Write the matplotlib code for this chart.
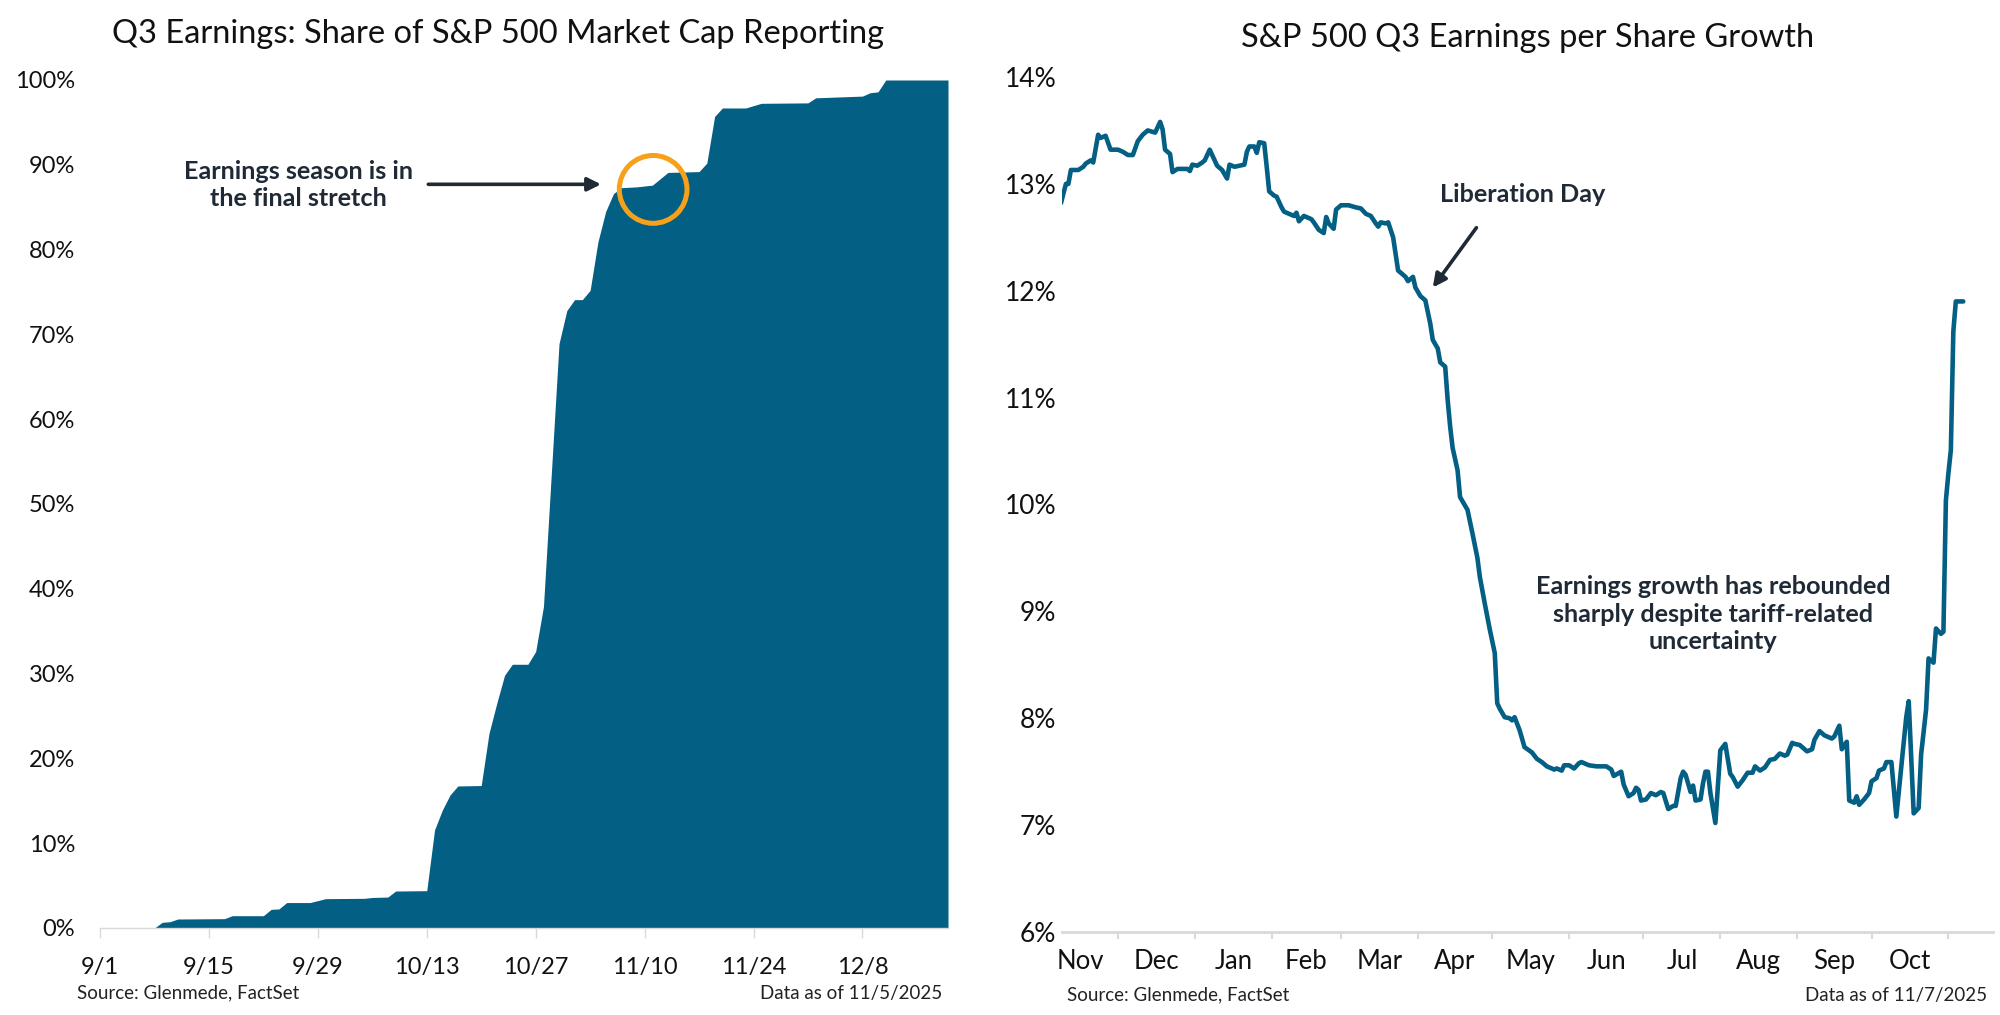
import numpy as np
import pandas as pd
import matplotlib
matplotlib.use("Agg")
import matplotlib.pyplot as plt
import matplotlib.dates as mdates
from matplotlib.patches import Ellipse
from matplotlib.ticker import FuncFormatter, FixedLocator, FixedFormatter, NullFormatter

plt.rcParams['font.family'] = ['Lato', 'DejaVu Sans']

# ---- left chart: share of S&P 500 market cap reporting (%)
rep_dates = ['2025-09-01', '2025-09-08', '2025-09-09', '2025-09-10', '2025-09-11', '2025-09-17',
             '2025-09-18', '2025-09-22', '2025-09-23', '2025-09-24', '2025-09-25', '2025-09-28',
             '2025-09-30', '2025-10-05', '2025-10-06', '2025-10-08', '2025-10-09', '2025-10-13',
             '2025-10-14', '2025-10-15', '2025-10-16', '2025-10-17', '2025-10-20', '2025-10-21',
             '2025-10-22', '2025-10-23', '2025-10-24', '2025-10-26', '2025-10-27', '2025-10-28',
             '2025-10-30', '2025-10-31', '2025-11-01', '2025-11-02', '2025-11-03', '2025-11-04',
             '2025-11-05', '2025-11-06', '2025-11-07', '2025-11-09', '2025-11-11', '2025-11-13',
             '2025-11-17', '2025-11-18', '2025-11-19', '2025-11-20', '2025-11-23', '2025-11-25',
             '2025-12-01', '2025-12-02', '2025-12-08', '2025-12-09', '2025-12-10', '2025-12-11',
             '2025-12-19']
rep_share = [0, 0, 0.67, 0.74, 1.06, 1.1,
             1.45, 1.45, 2.2, 2.25, 3.0, 3.0,
             3.46, 3.5, 3.6, 3.65, 4.36, 4.4,
             11.56, 13.9, 15.7, 16.75, 16.8, 22.95,
             26.5, 29.8, 31.1, 31.1, 32.6, 37.9,
             68.9, 72.8, 74.1, 74.1, 75.2, 80.9,
             84.5, 86.6, 87.3, 87.4, 87.6, 89.1,
             89.2, 90.2, 95.7, 96.7, 96.7, 97.25,
             97.3, 97.9, 98.1, 98.5, 98.6, 100,
             100]
rep_ticks = ['2025-09-01', '2025-09-15', '2025-09-29', '2025-10-13', '2025-10-27',
             '2025-11-10', '2025-11-24', '2025-12-08']
rep_tick_labels = ['9/1', '9/15', '9/29', '10/13', '10/27', '11/10', '11/24', '12/8']

# ---- right chart: S&P 500 Q3 EPS growth estimate (%)
eps_dates = ['2024-11-08', '2024-11-10', '2024-11-11', '2024-11-12', '2024-11-15', '2024-11-17',
             '2024-11-18', '2024-11-20', '2024-11-21', '2024-11-23', '2024-11-24', '2024-11-26',
             '2024-11-28', '2024-12-01', '2024-12-03', '2024-12-05', '2024-12-07', '2024-12-09',
             '2024-12-11', '2024-12-13', '2024-12-16', '2024-12-18', '2024-12-19', '2024-12-20',
             '2024-12-22', '2024-12-23', '2024-12-25', '2024-12-29', '2024-12-30', '2024-12-31',
             '2025-01-02', '2025-01-04', '2025-01-05', '2025-01-07', '2025-01-08', '2025-01-10',
             '2025-01-12', '2025-01-14', '2025-01-15', '2025-01-17', '2025-01-21', '2025-01-22',
             '2025-01-23', '2025-01-25', '2025-01-26', '2025-01-27', '2025-01-29', '2025-01-30',
             '2025-01-31', '2025-02-02', '2025-02-03', '2025-02-05', '2025-02-06', '2025-02-08',
             '2025-02-10', '2025-02-11', '2025-02-12', '2025-02-14', '2025-02-17', '2025-02-18',
             '2025-02-20', '2025-02-22', '2025-02-23', '2025-02-24', '2025-02-26', '2025-02-27',
             '2025-03-01', '2025-03-04', '2025-03-07', '2025-03-09', '2025-03-11', '2025-03-13',
             '2025-03-15', '2025-03-16', '2025-03-17', '2025-03-19', '2025-03-20', '2025-03-22',
             '2025-03-24', '2025-03-25', '2025-03-27', '2025-03-28', '2025-03-30', '2025-03-31',
             '2025-04-02', '2025-04-04', '2025-04-06', '2025-04-07', '2025-04-09', '2025-04-10',
             '2025-04-12', '2025-04-13', '2025-04-14', '2025-04-15', '2025-04-17', '2025-04-18',
             '2025-04-19', '2025-04-21', '2025-04-23', '2025-04-25', '2025-04-26', '2025-04-28',
             '2025-04-30', '2025-05-02', '2025-05-03', '2025-05-04', '2025-05-06', '2025-05-08',
             '2025-05-09', '2025-05-10', '2025-05-12', '2025-05-14', '2025-05-17', '2025-05-19',
             '2025-05-21', '2025-05-23', '2025-05-26', '2025-05-27', '2025-05-29', '2025-05-30',
             '2025-06-01', '2025-06-03', '2025-06-05', '2025-06-06', '2025-06-09', '2025-06-12',
             '2025-06-16', '2025-06-18', '2025-06-19', '2025-06-22', '2025-06-23', '2025-06-25',
             '2025-06-27', '2025-06-28', '2025-06-29', '2025-06-30', '2025-07-02', '2025-07-04',
             '2025-07-06', '2025-07-08', '2025-07-09', '2025-07-11', '2025-07-13', '2025-07-14',
             '2025-07-16', '2025-07-17', '2025-07-18', '2025-07-20', '2025-07-21', '2025-07-22',
             '2025-07-24', '2025-07-25', '2025-07-26', '2025-07-27', '2025-07-28', '2025-07-30',
             '2025-08-01', '2025-08-03', '2025-08-05', '2025-08-06', '2025-08-08', '2025-08-10',
             '2025-08-12', '2025-08-14', '2025-08-15', '2025-08-17', '2025-08-19', '2025-08-21',
             '2025-08-23', '2025-08-25', '2025-08-27', '2025-08-28', '2025-08-30', '2025-08-31',
             '2025-09-02', '2025-09-05', '2025-09-07', '2025-09-08', '2025-09-10', '2025-09-12',
             '2025-09-15', '2025-09-16', '2025-09-18', '2025-09-19', '2025-09-21', '2025-09-22',
             '2025-09-24', '2025-09-25', '2025-09-26', '2025-09-28', '2025-09-30', '2025-10-01',
             '2025-10-03', '2025-10-04', '2025-10-06', '2025-10-07', '2025-10-09', '2025-10-11',
             '2025-10-15', '2025-10-16', '2025-10-18', '2025-10-20', '2025-10-21', '2025-10-23',
             '2025-10-24', '2025-10-26', '2025-10-27', '2025-10-29', '2025-10-30', '2025-10-31',
             '2025-11-01', '2025-11-02', '2025-11-03', '2025-11-04', '2025-11-07']
eps_growth = [12.82, 13.00, 13.00, 13.13, 13.13, 13.16,
              13.19, 13.22, 13.20, 13.46, 13.43, 13.45,
              13.32, 13.32, 13.30, 13.27, 13.27, 13.40,
              13.46, 13.50, 13.48, 13.58, 13.51, 13.32,
              13.28, 13.11, 13.14, 13.14, 13.12, 13.18,
              13.17, 13.20, 13.22, 13.32, 13.27, 13.17,
              13.13, 13.05, 13.18, 13.16, 13.18, 13.30,
              13.35, 13.35, 13.29, 13.39, 13.38, 13.16,
              12.93, 12.89, 12.88, 12.78, 12.74, 12.72,
              12.70, 12.73, 12.65, 12.70, 12.67, 12.64,
              12.57, 12.54, 12.69, 12.63, 12.58, 12.76,
              12.80, 12.80, 12.78, 12.77, 12.72, 12.70,
              12.63, 12.60, 12.64, 12.63, 12.64, 12.50,
              12.19, 12.17, 12.13, 12.09, 12.13, 12.03,
              11.95, 11.91, 11.69, 11.54, 11.46, 11.33,
              11.29, 10.98, 10.73, 10.53, 10.32, 10.07,
              10.03, 9.95, 9.73, 9.50, 9.32, 9.07,
              8.83, 8.61, 8.14, 8.09, 8.01, 8.00,
              7.98, 8.01, 7.89, 7.73, 7.68, 7.62,
              7.59, 7.55, 7.52, 7.53, 7.51, 7.56,
              7.56, 7.53, 7.58, 7.59, 7.56, 7.55,
              7.55, 7.52, 7.46, 7.50, 7.38, 7.27,
              7.30, 7.35, 7.33, 7.23, 7.24, 7.30,
              7.28, 7.31, 7.30, 7.15, 7.18, 7.18,
              7.44, 7.50, 7.47, 7.31, 7.37, 7.23,
              7.24, 7.39, 7.50, 7.50, 7.30, 7.02,
              7.70, 7.76, 7.48, 7.45, 7.36, 7.42,
              7.49, 7.49, 7.55, 7.51, 7.54, 7.61,
              7.62, 7.67, 7.65, 7.66, 7.77, 7.76,
              7.75, 7.69, 7.71, 7.80, 7.88, 7.84,
              7.81, 7.83, 7.93, 7.71, 7.78, 7.23,
              7.21, 7.27, 7.19, 7.24, 7.30, 7.41,
              7.44, 7.51, 7.53, 7.59, 7.59, 7.08,
              8.01, 8.16, 7.11, 7.16, 7.66, 8.08,
              8.56, 8.52, 8.84, 8.79, 8.81, 10.04,
              10.29, 10.51, 11.62, 11.90, 11.90]
month_labels = ['Nov', 'Dec', 'Jan', 'Feb', 'Mar', 'Apr', 'May', 'Jun', 'Jul', 'Aug', 'Sep', 'Oct']
month_starts = ['2024-11-01', '2024-12-01', '2025-01-01', '2025-02-01', '2025-03-01', '2025-04-01',
                '2025-05-01', '2025-06-01', '2025-07-01', '2025-08-01', '2025-09-01', '2025-10-01']

blue = '#035F83'
orange = '#F7A11A'
dark = '#1F2A36'
axis_grey = '#D9D9D9'

W, H = 2000, 1015
fig = plt.figure(figsize=(W / 100, H / 100), dpi=100)

def fx(px):
    return px / W

def fy(py):
    return 1 - py / H

# ---------------- left panel
ax1 = fig.add_axes([fx(100), fy(928), fx(948) - fx(100), fy(80) - fy(928)])
d1 = pd.to_datetime(rep_dates)
ax1.fill_between(d1, 0, rep_share, color=blue, lw=0)
ax1.set_xlim(pd.Timestamp('2025-09-01'), pd.Timestamp('2025-12-19'))
ax1.set_ylim(0, 100)
ax1.set_yticks(np.arange(0, 101, 10))
ax1.yaxis.set_major_formatter(FuncFormatter(lambda v, p: f'{v:.0f}%'))
ax1.set_xticks(pd.to_datetime(rep_ticks))
ax1.set_xticklabels(rep_tick_labels)
for s in ['top', 'right', 'left']:
    ax1.spines[s].set_visible(False)
ax1.spines['bottom'].set_color(axis_grey)
ax1.spines['bottom'].set_linewidth(1.0)
ax1.tick_params(axis='y', length=0, pad=18, labelsize=17, labelcolor='#111111')
ax1.tick_params(axis='x', length=7, width=1.0, color=axis_grey, pad=14, labelsize=17,
                labelcolor='#111111')

ax1.add_patch(Ellipse((mdates.date2num(pd.Timestamp('2025-11-11')) + 0.1, 87.1),
                      width=8.7, height=8.0, fill=False, edgecolor=orange, lw=3.6, zorder=5))
ax1.annotate('', xy=(mdates.date2num(pd.Timestamp('2025-11-04')) + 0.4, 87.7),
             xytext=(mdates.date2num(pd.Timestamp('2025-10-13')) + 0.2, 87.7),
             arrowprops=dict(arrowstyle='-|>', color=dark, lw=2.6, mutation_scale=20,
                             shrinkA=0, shrinkB=0))
fig.text(fx(298), fy(185), 'Earnings season is in\nthe final stretch', ha='center', va='center',
         fontsize=18.2, fontweight='bold', color=dark, linespacing=1.2)

fig.text(fx(498), fy(34), 'Q3 Earnings: Share of S&P 500 Market Cap Reporting', ha='center',
         va='center', fontsize=23.5, color='#111111')
fig.text(fx(77), fy(993), 'Source: Glenmede, FactSet', ha='left', va='center', fontsize=13.5,
         color='#222222')
fig.text(fx(942), fy(993), 'Data as of 11/5/2025', ha='right', va='center', fontsize=13.5,
         color='#222222')

# ---------------- right panel
ax2 = fig.add_axes([fx(1062), fy(932), fx(1993) - fx(1062), fy(77) - fy(932)])
d2 = pd.to_datetime(eps_dates)
ax2.plot(d2, eps_growth, color=blue, lw=3.3, solid_joinstyle='round', solid_capstyle='round')
ax2.set_xlim(pd.Timestamp('2024-11-08 10:00'), pd.Timestamp('2025-11-19'))
ax2.set_ylim(6, 14)
ax2.set_yticks(np.arange(6, 15, 1))
ax2.yaxis.set_major_formatter(FuncFormatter(lambda v, p: f'{v:.0f}%'))

starts = pd.to_datetime(month_starts)
mids = [s + pd.Timedelta(days=s.days_in_month / 2) for s in starts]
boundaries = starts[1:].append(pd.DatetimeIndex(['2025-11-01']))
ax2.xaxis.set_major_locator(FixedLocator(mdates.date2num(boundaries)))
ax2.xaxis.set_major_formatter(NullFormatter())
ax2.xaxis.set_minor_locator(FixedLocator(mdates.date2num(mids)))
ax2.xaxis.set_minor_formatter(FixedFormatter(month_labels))
for s in ['top', 'right', 'left']:
    ax2.spines[s].set_visible(False)
ax2.spines['bottom'].set_color(axis_grey)
ax2.spines['bottom'].set_linewidth(2.0)
ax2.tick_params(axis='y', length=0, pad=4, labelsize=19, labelcolor='#111111')
ax2.tick_params(axis='x', which='major', length=5, width=1.5, color=axis_grey)
ax2.tick_params(axis='x', which='minor', length=0, pad=12, labelsize=18.5, labelcolor='#111111')

ax2.annotate('', xy=(mdates.date2num(pd.Timestamp('2025-04-07')), 12.03),
             xytext=(mdates.date2num(pd.Timestamp('2025-04-24')) + 0.6, 12.59),
             arrowprops=dict(arrowstyle='-|>', color=dark, lw=2.6, mutation_scale=20,
                             shrinkA=0, shrinkB=0))
fig.text(fx(1523), fy(195), 'Liberation Day', ha='center', va='center', fontsize=18.2,
         fontweight='bold', color=dark)
fig.text(fx(1713), fy(614), 'Earnings growth has rebounded\nsharply despite tariff-related\nuncertainty',
         ha='center', va='center', fontsize=18.2, fontweight='bold', color=dark, linespacing=1.22)

fig.text(fx(1528), fy(38), 'S&P 500 Q3 Earnings per Share Growth', ha='center', va='center',
         fontsize=23.5, color='#111111')
fig.text(fx(1067), fy(995), 'Source: Glenmede, FactSet', ha='left', va='center', fontsize=13.5,
         color='#222222')
fig.text(fx(1987), fy(995), 'Data as of 11/7/2025', ha='right', va='center', fontsize=13.5,
         color='#222222')

fig.savefig('out.png', dpi=100, facecolor='white')
